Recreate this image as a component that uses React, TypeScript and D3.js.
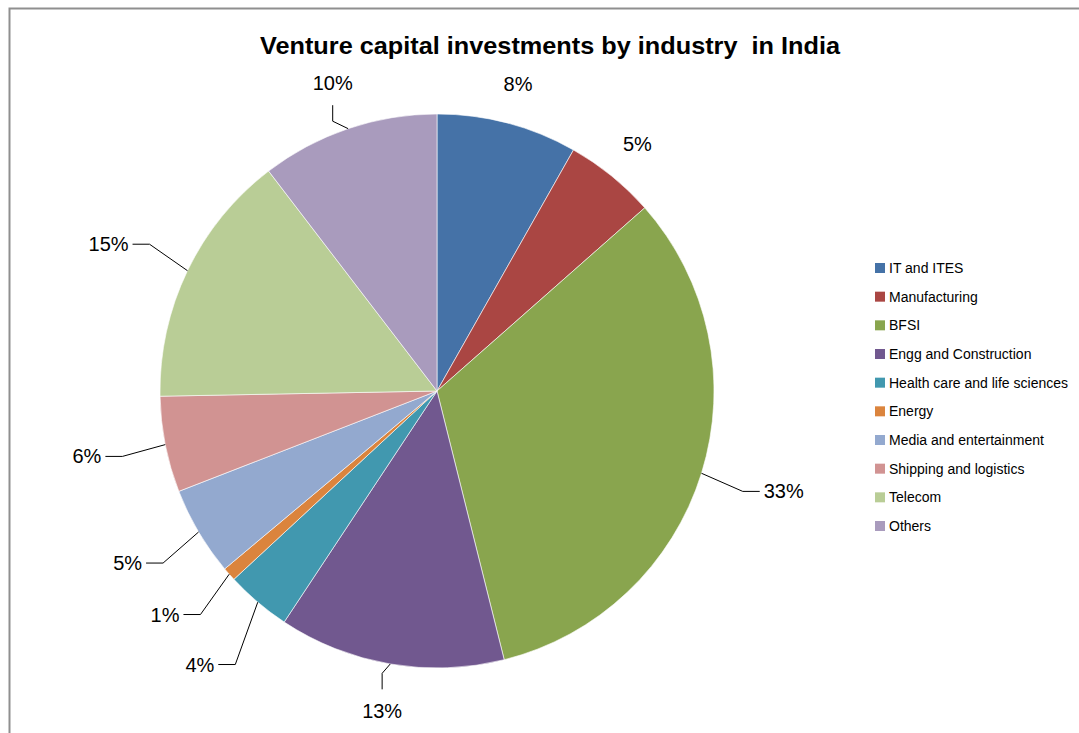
import React, { useEffect, useRef } from "react";
import * as d3 from "d3";

// Chart data
const categories: string[] = [
  "IT and ITES",
  "Manufacturing",
  "BFSI",
  "Engg and Construction",
  "Health care and life sciences",
  "Energy",
  "Media and entertainment",
  "Shipping and logistics",
  "Telecom",
  "Others",
];
const shares: number[] = [8.2, 5.3, 32.6, 13.2, 3.8, 0.8, 5.2, 5.6, 14.9, 10.4];
const colors: string[] = [
  "#4572A7",
  "#AA4643",
  "#89A54E",
  "#71588F",
  "#4198AF",
  "#DB843D",
  "#93A9CF",
  "#D19392",
  "#B9CD96",
  "#A99BBD",
];
const title = "Venture capital investments by industry  in India";

interface Slice {
  name: string;
  value: number;
  color: string;
}

const App: React.FC = () => {
  const svgRef = useRef<SVGSVGElement | null>(null);

  useEffect(() => {
    if (!svgRef.current) return;
    const svg = d3.select(svgRef.current);
    svg.selectAll("*").remove();

    const width = 1079;
    const height = 733;
    const cx = 437;
    const cy = 391;
    const radius = 277;
    const labelFont = "'Liberation Sans', Arial, sans-serif";

    svg.attr("width", width).attr("height", height);

    // Frame
    svg
      .append("path")
      .attr("d", `M9.5,${height} V8.5 H${width}`)
      .attr("fill", "none")
      .attr("stroke", "#8f8f8f")
      .attr("stroke-width", 2);

    // Title
    svg
      .append("text")
      .attr("x", 550)
      .attr("y", 54)
      .attr("text-anchor", "middle")
      .attr("font-family", "'Liberation Sans Narrow', 'Liberation Sans', Arial, sans-serif")
      .attr("font-weight", "bold")
      .attr("font-size", 24)
      .attr("textLength", 580)
      .attr("lengthAdjust", "spacingAndGlyphs")
      .style("white-space", "pre")
      .attr("fill", "#000")
      .text(title);

    const data: Slice[] = categories.map((name, i) => ({
      name,
      value: shares[i],
      color: colors[i],
    }));
    const total = d3.sum(shares);

    const pie = d3
      .pie<Slice>()
      .value((d) => d.value)
      .sort(null);
    const arcs = pie(data);

    const arc = d3.arc<d3.PieArcDatum<Slice>>().innerRadius(0).outerRadius(radius);

    const g = svg.append("g").attr("transform", `translate(${cx},${cy})`);

    g.selectAll("path.slice")
      .data(arcs)
      .enter()
      .append("path")
      .attr("class", "slice")
      .attr("d", arc)
      .attr("fill", (d) => d.data.color)
      .attr("stroke", "#ffffff")
      .attr("stroke-width", 0.6);

    // Label layout
    type Lab = {
      mid: number;
      x: number;
      y: number;
      leader: boolean;
      side: boolean;
      text: string;
    };
    const labels: Lab[] = arcs.map((a) => {
      const mid = (a.startAngle + a.endAngle) / 2;
      const leader = mid > Math.PI / 2;
      const side = Math.abs(Math.sin(mid)) > 0.45;
      const r = !leader ? 318 : side ? 338 : 325;
      return {
        mid,
        x: r * Math.sin(mid),
        y: -r * Math.cos(mid),
        leader,
        side,
        text: `${Math.round((a.data.value / total) * 100)}%`,
      };
    });

    // Push overlapping labels on the left side apart vertically
    const left = labels
      .filter((l) => Math.sin(l.mid) < 0 && l.side)
      .sort((p, q) => p.y - q.y);
    for (let i = 1; i < left.length; i++) {
      if (left[i].y - left[i - 1].y < 50) left[i].y = left[i - 1].y + 50;
    }

    const lg = g.append("g");
    labels.forEach((l) => {
      const sx = radius * Math.sin(l.mid);
      const sy = -radius * Math.cos(l.mid);
      let anchor = "middle";
      let tx = l.x;
      const ty = l.y + 7;
      if (l.leader) {
        let pts: [number, number][];
        if (l.side) {
          const dir = Math.sin(l.mid) > 0 ? 1 : -1;
          anchor = dir > 0 ? "start" : "end";
          tx = l.x + dir * 4;
          pts = [
            [sx, sy],
            [l.x - dir * 17, l.y],
            [l.x, l.y],
          ];
        } else {
          const dir = Math.cos(l.mid) > 0 ? -1 : 1;
          pts = [
            [sx, sy],
            [l.x, l.y - dir * 38],
            [l.x, l.y - dir * 22],
          ];
        }
        lg.append("path")
          .attr("d", d3.line()(pts))
          .attr("fill", "none")
          .attr("stroke", "#000")
          .attr("stroke-width", 1);
      }
      lg.append("text")
        .attr("x", tx)
        .attr("y", ty)
        .attr("text-anchor", anchor)
        .attr("font-family", labelFont)
        .attr("font-size", 20)
        .attr("fill", "#000")
        .text(l.text);
    });

    // Legend
    const legendY = d3
      .scalePoint<string>()
      .domain(categories)
      .range([268, 526]);
    const legend = svg.append("g");
    const rows = legend
      .selectAll("g")
      .data(data)
      .enter()
      .append("g")
      .attr("transform", (d) => `translate(875,${legendY(d.name)})`);
    rows
      .append("rect")
      .attr("x", 0)
      .attr("y", -5)
      .attr("width", 10)
      .attr("height", 10)
      .attr("fill", (d) => d.color);
    rows
      .append("text")
      .attr("x", 14)
      .attr("y", 5)
      .attr("font-family", labelFont)
      .attr("font-size", 14)
      .attr("fill", "#000")
      .text((d) => d.name);
  }, []);

  return (
    <div>
      <svg
        ref={svgRef}
        style={{ position: "absolute", left: 0, top: 0, background: "#fff" }}
      />
    </div>
  );
};

export default App;
